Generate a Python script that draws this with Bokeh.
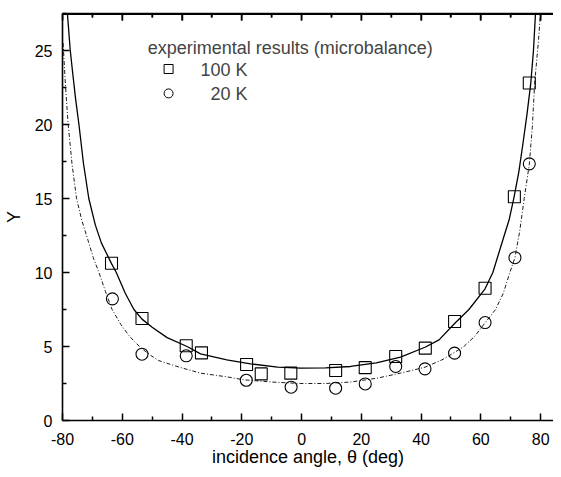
from bokeh.plotting import figure
from bokeh.models import FixedTicker, Range1d, Label, LinearAxis, BoxAnnotation
from bokeh.embed import file_html
from bokeh.resources import INLINE

# measured data, 100 K (squares)
theta_100 = [-63.6, -53.4, -38.6, -33.5, -18.4, -13.5, -3.6, 11.4, 21.3, 31.5, 41.4, 51.2, 61.4, 71.2, 76.2]
y_100 = [10.63, 6.89, 5.05, 4.57, 3.78, 3.15, 3.20, 3.38, 3.57, 4.32, 4.89, 6.69, 8.94, 15.12, 22.8]

# measured data, 20 K (circles)
theta_20 = [-63.3, -53.4, -38.6, -18.5, -3.5, 11.4, 21.3, 31.5, 41.3, 51.2, 61.4, 71.4, 76.2]
y_20 = [8.22, 4.48, 4.37, 2.72, 2.25, 2.18, 2.47, 3.65, 3.49, 4.55, 6.62, 11.0, 17.34]

# fit curve 100 K (solid)
fit100_x = [-78.4, -77.9, -77.4, -76.6, -75.6, -74.5, -73.0, -71.2, -69.0, -67.0, -65.3, -63.6,
            -62.0, -59.0, -56.1, -53.4, -50.0, -45.0, -38.3, -33.8,
            -25.0, -17.1, -8.0, -0.3, 8.0, 16.4, 25.0, 33.1, 41.3, 46.0, 51.2, 56.0, 61.4,
            64.0, 67.5, 69.5, 71.1, 72.7, 74.0, 75.5, 76.7, 77.6, 78.3]
fit100_y = [27.6, 26.3, 25.0, 23.5, 21.7, 20.0, 17.4, 15.0, 13.2, 12.0, 11.3, 10.6,
            10.0, 8.6, 7.5, 6.85, 6.3, 5.6, 5.0, 4.5,
            4.1, 3.83, 3.6, 3.54, 3.55, 3.65, 3.9, 4.28, 4.95, 5.45, 6.55, 7.5, 8.9,
            10.0, 12.3, 13.6, 15.1, 16.8, 18.6, 20.8, 22.8, 25.0, 27.6]

# fit curve 20 K (dash-dot)
fit20_x = [-79.8, -79.0, -78.1, -76.8, -75.3, -73.5, -71.5, -69.7, -67.8, -65.6, -63.4, -60.5,
           -58.0, -55.8, -53.4, -50.5, -47.8, -44.0, -40.0, -33.8, -25.0,
           -19.3, -10.0, -0.3, 8.0, 16.4, 25.0, 33.1, 41.3, 47.0, 51.2, 54.3, 58.0, 61.4,
           64.9, 67.5, 69.7, 71.4, 73.0, 74.5, 76.2, 77.2, 78.0, 79.2, 80.0]
fit20_y = [25.5, 22.6, 20.0, 17.3, 15.0, 13.5, 12.2, 11.0, 10.0, 8.7, 7.5, 6.5,
           5.8, 5.3, 4.85, 4.4, 4.05, 3.8, 3.55, 3.2, 2.95,
           2.75, 2.6, 2.5, 2.5, 2.6, 2.85, 3.2, 3.6, 4.1, 4.6, 5.0, 5.7, 6.6,
           7.5, 8.6, 10.0, 11.0, 12.8, 15.0, 17.3, 19.8, 22.8, 25.5, 27.6]

x_ticks = [-80, -60, -40, -20, 0, 20, 40, 60, 80]
x_tick_labels = ["-80", "-60", "-40", "-20", "0", "20", "40", "60", "80"]
x_minor = [-70, -50, -30, -10, 10, 30, 50, 70]
y_ticks = [0, 5, 10, 15, 20, 25]
y_minor = [2.5, 7.5, 12.5, 17.5, 22.5, 27.5]

FONT = "Liberation Sans"
Y_TOP = 27.5
PX_PER_Y = 14.8  # vertical pixels per data unit

p = figure(width=553, height=469, output_backend="svg", toolbar_location=None,
           x_range=Range1d(-80, 84.3), y_range=Range1d(0, Y_TOP),
           x_axis_label="incidence angle, \u03b8 (deg)", y_axis_label="Y",
           min_border_left=10, min_border_top=13, min_border_right=0, min_border_bottom=49)
p.grid.visible = False
p.title.visible = False
p.outline_line_color = None
p.background_fill_color = "white"
p.border_fill_color = "white"

p.line(fit100_x, fit100_y, line_color="black", line_width=1.3)
p.line(fit20_x, fit20_y, line_color="black", line_width=0.9, line_dash="4 2 1 2")

p.scatter(theta_100, y_100, marker="square", size=12, fill_color=None, line_color="black", line_width=1.1)
p.scatter(theta_20, y_20, marker="circle", size=12, fill_color=None, line_color="black", line_width=1.1)

bottom = p.below[0]
left = p.left[0]
bottom.ticker = FixedTicker(ticks=x_ticks, minor_ticks=x_minor)
bottom.major_label_overrides = {t: s for t, s in zip(x_ticks, x_tick_labels)}
left.ticker = FixedTicker(ticks=y_ticks, minor_ticks=y_minor)

# top axis: ticks only, no labels
top = LinearAxis(ticker=FixedTicker(ticks=x_ticks, minor_ticks=x_minor),
                 major_label_overrides={t: " " for t in x_ticks})
p.add_layout(top, "above")

for ax in [bottom, left, top]:
    ax.axis_line_width = 1.6
    ax.axis_line_color = "black"
    ax.major_tick_in = 7
    ax.major_tick_out = 0
    ax.minor_tick_in = 4
    ax.minor_tick_out = 0
    ax.major_tick_line_width = 1.5
    ax.minor_tick_line_width = 1.5
    ax.major_tick_line_color = "black"
    ax.minor_tick_line_color = "black"
    ax.major_label_text_font = FONT
    ax.major_label_text_font_size = "16px"
    ax.major_label_text_color = "black"
    ax.axis_label_text_font = FONT
    ax.axis_label_text_font_size = "18px"
    ax.axis_label_text_font_style = "normal"
    ax.axis_label_text_color = "black"

top.major_label_text_font_size = "4px"
top.major_label_standoff = 0

bottom.major_label_standoff = 12
bottom.axis_label_standoff = -1
left.major_label_standoff = 10
left.axis_label_standoff = 8

# top frame edge drawn inside the frame, with inward ticks
p.add_layout(BoxAnnotation(bottom=Y_TOP - 1.6 / PX_PER_Y, top=Y_TOP, fill_color="black",
                           fill_alpha=1.0, line_color=None))
p.segment(x0=x_ticks, y0=[Y_TOP] * len(x_ticks), x1=x_ticks,
          y1=[Y_TOP - 7 / PX_PER_Y] * len(x_ticks), line_color="black", line_width=1.5)
p.segment(x0=x_minor, y0=[Y_TOP] * len(x_minor), x1=x_minor,
          y1=[Y_TOP - 4 / PX_PER_Y] * len(x_minor), line_color="black", line_width=1.5)

# legend-like text block
p.add_layout(Label(x=-51.5, y=25.2, text="experimental results (microbalance)", text_font=FONT,
                   text_font_size="18px", text_baseline="middle", text_align="left"))
p.add_layout(Label(x=-18.1, y=23.7, text="100 K", text_font=FONT,
                   text_font_size="18px", text_baseline="middle", text_align="right"))
p.add_layout(Label(x=-18.1, y=22.05, text="20 K", text_font=FONT,
                   text_font_size="18px", text_baseline="middle", text_align="right"))
p.scatter([-44.5], [23.75], marker="square", size=9, fill_color=None, line_color="black", line_width=1)
p.scatter([-44.5], [22.1], marker="circle", size=9, fill_color=None, line_color="black", line_width=1)

open("out.html", "w").write(file_html(p, INLINE))
